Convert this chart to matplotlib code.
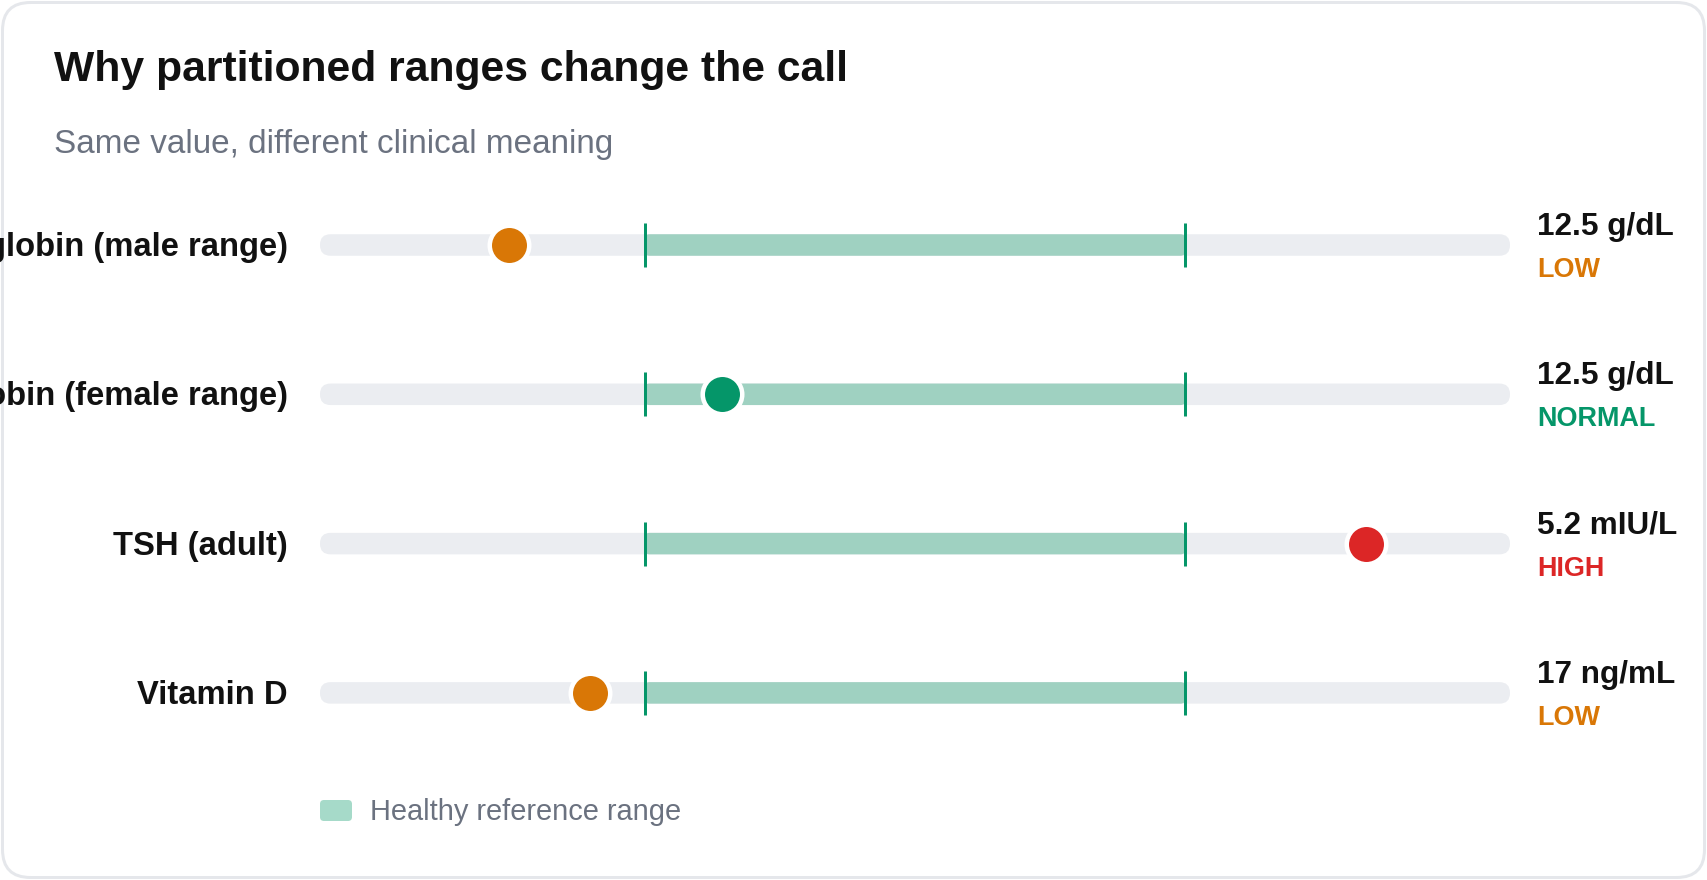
import matplotlib
matplotlib.use('Agg')
import matplotlib.pyplot as plt
from matplotlib.patches import FancyBboxPatch

plt.rcParams['font.family'] = ['Liberation Sans', 'DejaVu Sans']

# data
labels = ['Hemoglobin (male range)', 'Hemoglobin (female range)', 'TSH (adult)', 'Vitamin D']
values = [12.5, 12.5, 5.2, 17]
units = ['g/dL', 'g/dL', 'mIU/L', 'ng/mL']
range_lo = [13.5, 12.0, 0.4, 20]
range_hi = [17.5, 15.5, 4.0, 50]

title = 'Why partitioned ranges change the call'
subtitle = 'Same value, different clinical meaning'
legend_label = 'Healthy reference range'

W, H = 1707, 880
PT = 0.72  # points per pixel at dpi 100

C_LOW = '#d97706'
C_OK = '#059669'
C_HIGH = '#dc2626'
TRACK = '#ebedf1'
BAND = '#9fd1c1'
INK = '#111111'
GREY = '#6b7280'

fig = plt.figure(figsize=(W / 100, H / 100), dpi=100)
fig.patch.set_facecolor('white')
bg = fig.add_axes([0, 0, 1, 1])
bg.set_xlim(0, W)
bg.set_ylim(H, 0)
bg.axis('off')

card = FancyBboxPatch((2.5, 2.5), W - 5, H - 5, boxstyle='round,pad=0,rounding_size=28',
                      fc='white', ec='#e5e7eb', lw=3 * PT)
bg.add_patch(card)
# inner area of the card, used to clip the long row labels
inner = FancyBboxPatch((4.5, 4.5), W - 9, H - 9, boxstyle='round,pad=0,rounding_size=26',
                       transform=bg.transData)

bg.text(54, 80.5, title, fontsize=42.6 * PT, fontweight='bold', color=INK, va='baseline')
bg.text(54, 153, subtitle, fontsize=33.3 * PT, color=GREY, va='baseline')

# track geometry (pixels)
x0, x1 = 320, 1510
row_y0, row_dy = 245, 149.3
tick_h = 44
bar_h = 21.5

for i in range(len(labels)):
    lo, hi, v = range_lo[i], range_hi[i], values[i]
    pad = 0.6 * (hi - lo)
    dmin, dmax = lo - pad, hi + pad
    yc = row_y0 + i * row_dy

    ax = fig.add_axes([x0 / W, 1 - (yc + tick_h / 2) / H, (x1 - x0) / W, tick_h / H])
    ax.set_xlim(dmin, dmax)
    ax.set_ylim(-1, 1)
    ax.axis('off')
    ppx = (x1 - x0) / (dmax - dmin)
    ppy = tick_h / 2
    hb = bar_h / ppy

    track = FancyBboxPatch((dmin, -hb / 2), dmax - dmin, hb,
                           boxstyle='round,pad=0,rounding_size=%f' % (10.5 / ppx),
                           mutation_aspect=ppx / ppy, fc=TRACK, ec='none', clip_on=False)
    ax.add_patch(track)
    band = FancyBboxPatch((lo, -hb / 2), hi - lo, hb,
                          boxstyle='round,pad=0,rounding_size=%f' % (5 / ppx),
                          mutation_aspect=ppx / ppy, fc=BAND, ec='none', clip_on=False)
    ax.add_patch(band)
    ax.vlines([lo, hi], -1, 1, color=C_OK, lw=3 * PT, clip_on=False, zorder=3)

    if v < lo:
        status, col = 'LOW', C_LOW
    elif v > hi:
        status, col = 'HIGH', C_HIGH
    else:
        status, col = 'NORMAL', C_OK
    ax.plot([v], [0], 'o', ms=39.5 * PT, mfc=col, mec='white', mew=4.5 * PT,
            clip_on=False, zorder=5)

    t = bg.text(288, yc + 11, labels[i], fontsize=32.8 * PT, fontweight='bold',
                color=INK, ha='right', va='baseline')
    t.set_clip_path(inner)
    bg.text(1537, yc - 10, '%g %s' % (v, units[i]), fontsize=31.5 * PT, fontweight='bold',
            color=INK, va='baseline')
    bg.text(1537, yc + 32, status, fontsize=27 * PT, fontweight='bold',
            color=col, va='baseline')

# legend
sw = FancyBboxPatch((320, 800), 32, 21, boxstyle='round,pad=0,rounding_size=4',
                    fc='#a6dac9', ec='none')
bg.add_patch(sw)
bg.text(369.5, 820, legend_label, fontsize=29 * PT, color=GREY, va='baseline')

fig.savefig('out.png', dpi=100)
